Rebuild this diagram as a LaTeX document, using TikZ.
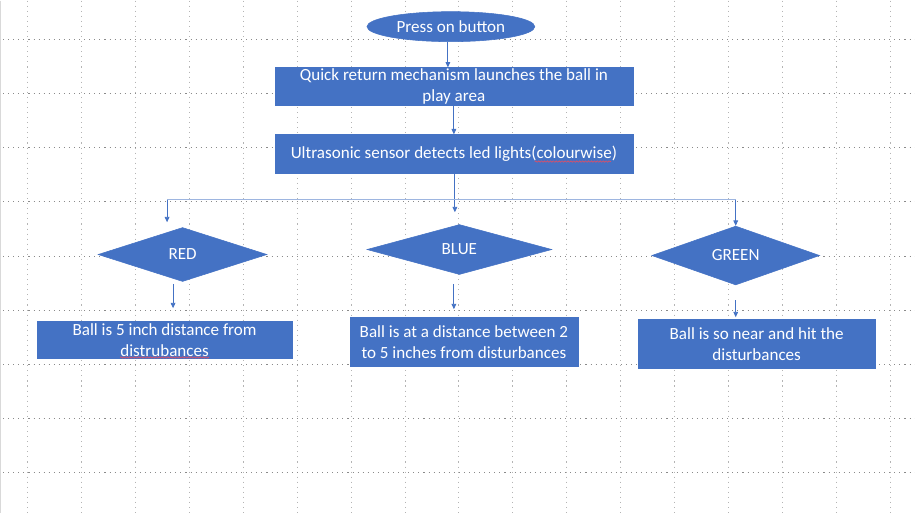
\documentclass[tikz,border=0pt]{standalone}
\usepackage{fontspec}
\setmainfont{Carlito}
\usetikzlibrary{arrows.meta,shapes.geometric,decorations.pathmorphing}
\definecolor{Office}{HTML}{4472C4}
\definecolor{Bus}{HTML}{9DB5E0}
\definecolor{GridH}{HTML}{8A8A8A}
\definecolor{GridV}{HTML}{B4B4B4}
\definecolor{Spell}{HTML}{D8506A}

\begin{document}
\begin{tikzpicture}[x=0.75pt,y=-0.75pt,>={Triangle[length=4pt,width=3.5pt]},
  every node/.style={font=\fontsize{12.8}{15.5}\selectfont,text=white,fill=Office,draw=Office,inner sep=0pt,align=center},
  startbox/.style={ellipse,minimum width=126pt,minimum height=22.5pt},
  procbox/.style={rectangle,minimum width=#1,minimum height=28.5pt},
  colourbox/.style={diamond,minimum width=#1,minimum height=40.5pt},
  flow/.style={Office,->,line width=0.6pt},
  bus/.style={Bus,line width=0.8pt},
  squiggle/.style={Spell,line width=0.5pt,decorate,decoration={snake,amplitude=0.5pt,segment length=2.2pt}}]
\fill[white] (0,0) rectangle (915,513);
\draw[gray!30,line width=1pt] (0.5,0)--(0.5,513);
\foreach \k in {0,...,16}
  \draw[GridV,line width=0.6pt,dash pattern=on 0.8pt off 3pt] ({27+54*\k},0)--({27+54*\k},513);
\foreach \k in {0,...,8}
  \draw[GridH,line width=0.6pt,dash pattern=on 0.8pt off 3pt] (3,{39+54.1*\k})--(915,{39+54.1*\k});
\node[startbox] (press) at (451,26){Press on button};
\node[procbox=268.5pt] (quick) at (454,86){Quick return mechanism launches the ball in\\play area};
\node[procbox=268.5pt,minimum height=29.25pt] (ultra) at (454,153.5){Ultrasonic sensor detects led lights(colourwise)};
\node[colourbox=126.75pt] (red) at (182.5,254){RED};
\node[colourbox=138.75pt,minimum height=37.5pt] (blue) at (459.5,249){BLUE};
\node[colourbox=126pt] (green) at (736,255){GREEN};
\node[procbox=191.25pt,minimum height=27.75pt] (redbox) at (164.5,339.5){Ball is 5 inch distance from\\distrubances};
\node[procbox=171pt,minimum height=36.75pt] (bluebox) at (464,341.5){Ball is at a distance between 2\\to 5 inches from disturbances};
\node[procbox=178.5pt,minimum height=36.75pt] (greenbox) at (757,343.5){Ball is so near and hit the\\disturbances};
\draw[squiggle] (535,161)--(611,161);
\draw[squiggle] (120,357)--(209,357);
\coordinate (hl) at (167,199);
\coordinate (split) at (455,199);
\coordinate (hr) at (736,199);
\draw[flow] (press.south -| 448,0)--(quick.north -| 448,0);
\draw[flow] (quick.south)--(ultra.north);
\draw[Office,line width=0.6pt] (ultra.south -| split)--(split);
\draw[bus] (hl)--(hr);
\draw[flow,shorten >=3.75pt] (hl)--(hl |- red.north);
\draw[flow,shorten >=9pt] (split)--(split |- blue.north);
\draw[flow] (hr)--(green.north);
\draw[flow,shorten <=1.5pt,shorten >=9.75pt] (red.south -| 173,0)--(redbox.north -| 173,0);
\draw[flow,shorten <=6.75pt,shorten >=6pt] (blue.south -| 454,0)--(bluebox.north -| 454,0);
\draw[flow,shorten <=11.25pt,shorten >=1.5pt] (green.south)--(green.south |- greenbox.north);
\end{tikzpicture}
\end{document}
